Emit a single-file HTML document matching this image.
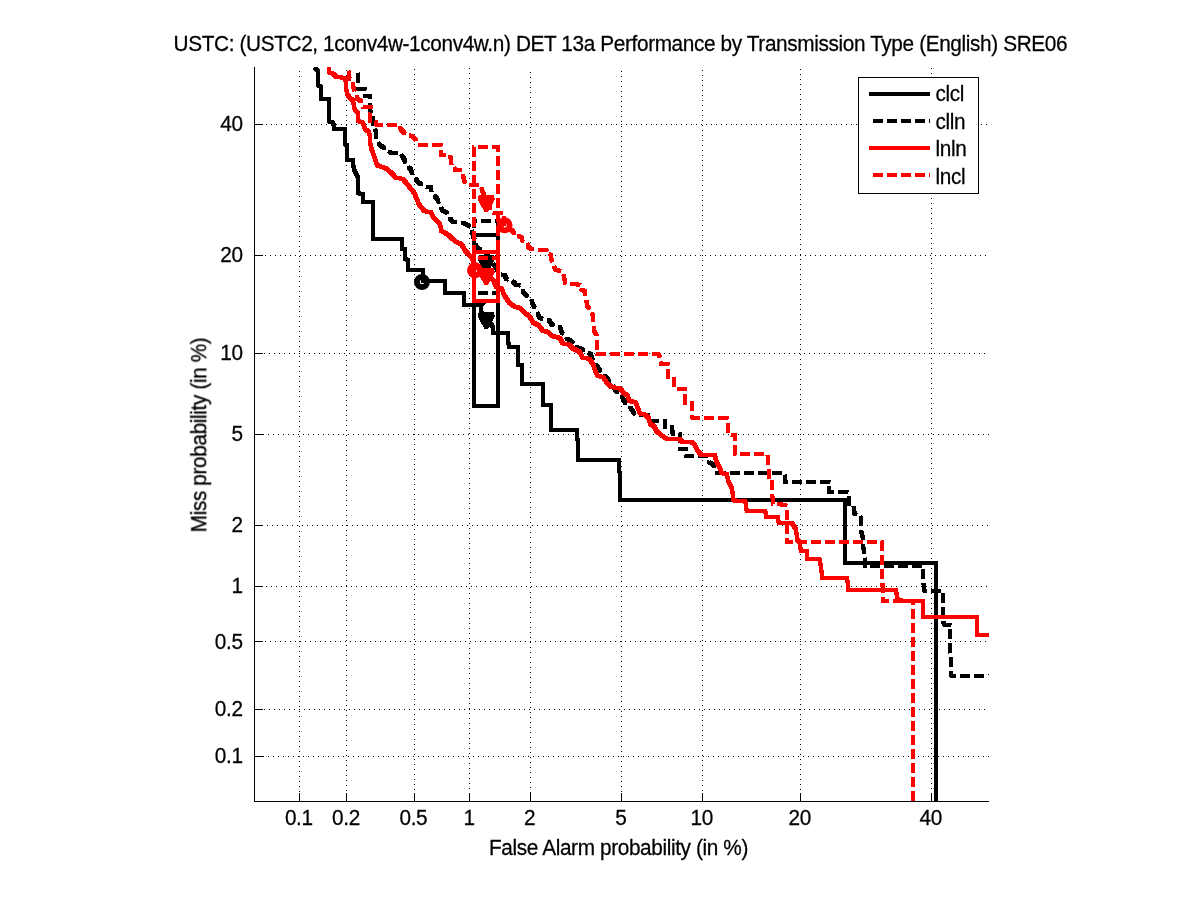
<!DOCTYPE html><html><head><meta charset="utf-8"><title>DET</title><style>
html,body{margin:0;padding:0;background:#fff}
body{width:1201px;height:900px;position:relative;overflow:hidden;font-family:"Liberation Sans",sans-serif;font-size:20.8px;letter-spacing:-0.38px;-webkit-text-stroke:0.25px #000;color:#000}
.t{position:absolute;white-space:nowrap;line-height:20px;transform:scaleY(1.03);transform-origin:0 17.2px}
</style></head><body>
<svg width="1201" height="900" viewBox="0 0 1201 900" shape-rendering="crispEdges" style="position:absolute;left:0;top:0">
<rect width="1201" height="900" fill="#fff"/>
<g stroke="#000" stroke-width="1" stroke-dasharray="1 4" fill="none"><path d="M299.5,71 V801"/><path d="M258,756.5 H989"/><path d="M346.5,70 V801"/><path d="M259,709.5 H989"/><path d="M414.5,69 V801"/><path d="M255,641.5 H989"/><path d="M469.5,68 V801"/><path d="M256,586.5 H989"/><path d="M530.5,72 V801"/><path d="M257,525.5 H989"/><path d="M621.5,71 V801"/><path d="M258,434.5 H989"/><path d="M702.5,70 V801"/><path d="M259,353.5 H989"/><path d="M800.5,69 V801"/><path d="M255,255.5 H989"/><path d="M931.5,68 V801"/><path d="M256,124.5 H989"/></g>
<g stroke="#000" stroke-width="1" fill="none">
<path d="M254.5,67 V802 M254,801.5 H989"/>
<path d="M299.5,801 V793 M255,756.5 H263"/>
<path d="M346.5,801 V793 M255,709.5 H263"/>
<path d="M414.5,801 V793 M255,641.5 H263"/>
<path d="M469.5,801 V793 M255,586.5 H263"/>
<path d="M530.5,801 V793 M255,525.5 H263"/>
<path d="M621.5,801 V793 M255,434.5 H263"/>
<path d="M702.5,801 V793 M255,353.5 H263"/>
<path d="M800.5,801 V793 M255,255.5 H263"/>
<path d="M931.5,801 V793 M255,124.5 H263"/>
</g>
<defs><clipPath id="cp"><rect x="254" y="67" width="735" height="735"/></clipPath></defs>
<g clip-path="url(#cp)" fill="none" stroke-width="4" stroke-linejoin="miter">
<path d="M315.1,67.3 L318.0,71.3 L318.0,85.3 L320.7,86.7 L320.7,99.3 L328.7,99.3 L328.7,121.3 L333.3,122.7 L334.0,129.3 L344.7,129.3 L344.7,144.0 L346.7,145.3 L346.7,160.0 L352.7,160.0 L352.7,161.3 L354.0,169.3 L358.0,177.3 L358.0,193.3 L362.7,194.0 L363.3,202.0 L373.3,202.0 L373.3,238.7 L402.0,239.0 L402.0,248.5 L405.0,249.5 L405.0,259.0 L408.0,260.0 L408.0,269.5 L422.5,269.5 L423.0,281.0 L445.0,281.0 L445.0,292.5 L464.0,292.5 L464.0,304.5 L481.0,304.5 L480.7,304.7 L481.3,312.0 L492.7,326.7 L492.7,332.7 L508.0,332.7 L508.7,347.3 L518.0,347.3 L518.0,364.7 L522.0,365.3 L522.0,384.0 L542.7,384.0 L542.7,404.7 L551.3,404.7 L551.3,404.7 L551.3,430.0 L577.3,430.0 L578.0,460.0 L619.3,460.0 L620.0,500.0 L844.7,500.0 L844.7,562.7 L936.0,562.7 L936.0,801.0" stroke="#000"/>
<path d="M314.1,66.3 L317.0,70.3 L317.0,84.3 L319.7,85.7 L319.7,98.3 L327.7,98.3 L327.7,120.3 L332.3,121.7 L333.0,128.3 L343.7,128.3 L343.7,143.0 L345.7,144.3 L345.7,159.0 L351.7,159.0 L351.7,160.3 L353.0,168.3 L357.0,176.3 L357.0,192.3 L361.7,193.0 L362.3,201.0 L372.3,201.0 L372.3,237.7 L401.0,238.0 L401.0,247.5 L404.0,248.5 L404.0,258.0 L407.0,259.0 L407.0,268.5 L421.5,268.5 L422.0,280.0 L444.0,280.0 L444.0,291.5 L463.0,291.5 L463.0,303.5 L480.0,303.5 L479.7,303.7 L480.3,311.0 L491.7,325.7 L491.7,331.7 L507.0,331.7 L507.7,346.3 L517.0,346.3 L517.0,363.7 L521.0,364.3 L521.0,383.0 L541.7,383.0 L541.7,403.7 L550.3,403.7 L550.3,403.7 L550.3,429.0 L576.3,429.0 L577.0,459.0 L618.3,459.0 L619.0,499.0 L843.7,499.0 L843.7,561.7 L935.0,561.7 L935.0,800.0" stroke="#000" stroke-width="2"/>
<path d="M316.1,66.3 L319.0,70.3 L319.0,84.3 L321.7,85.7 L321.7,98.3 L329.7,98.3 L329.7,120.3 L334.3,121.7 L335.0,128.3 L345.7,128.3 L345.7,143.0 L347.7,144.3 L347.7,159.0 L353.7,159.0 L353.7,160.3 L355.0,168.3 L359.0,176.3 L359.0,192.3 L363.7,193.0 L364.3,201.0 L374.3,201.0 L374.3,237.7 L403.0,238.0 L403.0,247.5 L406.0,248.5 L406.0,258.0 L409.0,259.0 L409.0,268.5 L423.5,268.5 L424.0,280.0 L446.0,280.0 L446.0,291.5 L465.0,291.5 L465.0,303.5 L482.0,303.5 L481.7,303.7 L482.3,311.0 L493.7,325.7 L493.7,331.7 L509.0,331.7 L509.7,346.3 L519.0,346.3 L519.0,363.7 L523.0,364.3 L523.0,383.0 L543.7,383.0 L543.7,403.7 L552.3,403.7 L552.3,403.7 L552.3,429.0 L578.3,429.0 L579.0,459.0 L620.3,459.0 L621.0,499.0 L845.7,499.0 L845.7,561.7 L937.0,561.7 L937.0,800.0" stroke="#000" stroke-width="2"/>
<path d="M314.1,68.3 L317.0,72.3 L317.0,86.3 L319.7,87.7 L319.7,100.3 L327.7,100.3 L327.7,122.3 L332.3,123.7 L333.0,130.3 L343.7,130.3 L343.7,145.0 L345.7,146.3 L345.7,161.0 L351.7,161.0 L351.7,162.3 L353.0,170.3 L357.0,178.3 L357.0,194.3 L361.7,195.0 L362.3,203.0 L372.3,203.0 L372.3,239.7 L401.0,240.0 L401.0,249.5 L404.0,250.5 L404.0,260.0 L407.0,261.0 L407.0,270.5 L421.5,270.5 L422.0,282.0 L444.0,282.0 L444.0,293.5 L463.0,293.5 L463.0,305.5 L480.0,305.5 L479.7,305.7 L480.3,313.0 L491.7,327.7 L491.7,333.7 L507.0,333.7 L507.7,348.3 L517.0,348.3 L517.0,365.7 L521.0,366.3 L521.0,385.0 L541.7,385.0 L541.7,405.7 L550.3,405.7 L550.3,405.7 L550.3,431.0 L576.3,431.0 L577.0,461.0 L618.3,461.0 L619.0,501.0 L843.7,501.0 L843.7,563.7 L935.0,563.7 L935.0,802.0" stroke="#000" stroke-width="2"/>
<path d="M316.1,68.3 L319.0,72.3 L319.0,86.3 L321.7,87.7 L321.7,100.3 L329.7,100.3 L329.7,122.3 L334.3,123.7 L335.0,130.3 L345.7,130.3 L345.7,145.0 L347.7,146.3 L347.7,161.0 L353.7,161.0 L353.7,162.3 L355.0,170.3 L359.0,178.3 L359.0,194.3 L363.7,195.0 L364.3,203.0 L374.3,203.0 L374.3,239.7 L403.0,240.0 L403.0,249.5 L406.0,250.5 L406.0,260.0 L409.0,261.0 L409.0,270.5 L423.5,270.5 L424.0,282.0 L446.0,282.0 L446.0,293.5 L465.0,293.5 L465.0,305.5 L482.0,305.5 L481.7,305.7 L482.3,313.0 L493.7,327.7 L493.7,333.7 L509.0,333.7 L509.7,348.3 L519.0,348.3 L519.0,365.7 L523.0,366.3 L523.0,385.0 L543.7,385.0 L543.7,405.7 L552.3,405.7 L552.3,405.7 L552.3,431.0 L578.3,431.0 L579.0,461.0 L620.3,461.0 L621.0,501.0 L845.7,501.0 L845.7,563.7 L937.0,563.7 L937.0,802.0" stroke="#000" stroke-width="2"/>
<path d="M313.6,65.8 L316.5,69.8 L316.5,83.8 L319.2,85.2 L319.2,97.8 L327.2,97.8 L327.2,119.8 L331.8,121.2 L332.5,127.8 L343.2,127.8 L343.2,142.5 L345.2,143.8 L345.2,158.5 L351.2,158.5 L351.2,159.8 L352.5,167.8 L356.5,175.8 L356.5,191.8 L361.2,192.5 L361.8,200.5 L371.8,200.5 L371.8,237.2 L400.5,237.5 L400.5,247.0 L403.5,248.0 L403.5,257.5 L406.5,258.5 L406.5,268.0 L421.0,268.0 L421.5,279.5 L443.5,279.5 L443.5,291.0 L462.5,291.0 L462.5,303.0 L479.5,303.0 L479.2,303.2 L479.8,310.5 L491.2,325.2 L491.2,331.2 L506.5,331.2 L507.2,345.8 L516.5,345.8 L516.5,363.2 L520.5,363.8 L520.5,382.5 L541.2,382.5 L541.2,403.2 L549.8,403.2 L549.8,403.2 L549.8,428.5 L575.8,428.5 L576.5,458.5 L617.8,458.5 L618.5,498.5 L843.2,498.5 L843.2,561.2 L934.5,561.2 L934.5,799.5" stroke="#000" stroke-width="1"/>
<path d="M316.6,65.8 L319.5,69.8 L319.5,83.8 L322.2,85.2 L322.2,97.8 L330.2,97.8 L330.2,119.8 L334.8,121.2 L335.5,127.8 L346.2,127.8 L346.2,142.5 L348.2,143.8 L348.2,158.5 L354.2,158.5 L354.2,159.8 L355.5,167.8 L359.5,175.8 L359.5,191.8 L364.2,192.5 L364.8,200.5 L374.8,200.5 L374.8,237.2 L403.5,237.5 L403.5,247.0 L406.5,248.0 L406.5,257.5 L409.5,258.5 L409.5,268.0 L424.0,268.0 L424.5,279.5 L446.5,279.5 L446.5,291.0 L465.5,291.0 L465.5,303.0 L482.5,303.0 L482.2,303.2 L482.8,310.5 L494.2,325.2 L494.2,331.2 L509.5,331.2 L510.2,345.8 L519.5,345.8 L519.5,363.2 L523.5,363.8 L523.5,382.5 L544.2,382.5 L544.2,403.2 L552.8,403.2 L552.8,403.2 L552.8,428.5 L578.8,428.5 L579.5,458.5 L620.8,458.5 L621.5,498.5 L846.2,498.5 L846.2,561.2 L937.5,561.2 L937.5,799.5" stroke="#000" stroke-width="1"/>
<path d="M313.6,68.8 L316.5,72.8 L316.5,86.8 L319.2,88.2 L319.2,100.8 L327.2,100.8 L327.2,122.8 L331.8,124.2 L332.5,130.8 L343.2,130.8 L343.2,145.5 L345.2,146.8 L345.2,161.5 L351.2,161.5 L351.2,162.8 L352.5,170.8 L356.5,178.8 L356.5,194.8 L361.2,195.5 L361.8,203.5 L371.8,203.5 L371.8,240.2 L400.5,240.5 L400.5,250.0 L403.5,251.0 L403.5,260.5 L406.5,261.5 L406.5,271.0 L421.0,271.0 L421.5,282.5 L443.5,282.5 L443.5,294.0 L462.5,294.0 L462.5,306.0 L479.5,306.0 L479.2,306.2 L479.8,313.5 L491.2,328.2 L491.2,334.2 L506.5,334.2 L507.2,348.8 L516.5,348.8 L516.5,366.2 L520.5,366.8 L520.5,385.5 L541.2,385.5 L541.2,406.2 L549.8,406.2 L549.8,406.2 L549.8,431.5 L575.8,431.5 L576.5,461.5 L617.8,461.5 L618.5,501.5 L843.2,501.5 L843.2,564.2 L934.5,564.2 L934.5,802.5" stroke="#000" stroke-width="1"/>
<path d="M316.6,68.8 L319.5,72.8 L319.5,86.8 L322.2,88.2 L322.2,100.8 L330.2,100.8 L330.2,122.8 L334.8,124.2 L335.5,130.8 L346.2,130.8 L346.2,145.5 L348.2,146.8 L348.2,161.5 L354.2,161.5 L354.2,162.8 L355.5,170.8 L359.5,178.8 L359.5,194.8 L364.2,195.5 L364.8,203.5 L374.8,203.5 L374.8,240.2 L403.5,240.5 L403.5,250.0 L406.5,251.0 L406.5,260.5 L409.5,261.5 L409.5,271.0 L424.0,271.0 L424.5,282.5 L446.5,282.5 L446.5,294.0 L465.5,294.0 L465.5,306.0 L482.5,306.0 L482.2,306.2 L482.8,313.5 L494.2,328.2 L494.2,334.2 L509.5,334.2 L510.2,348.8 L519.5,348.8 L519.5,366.2 L523.5,366.8 L523.5,385.5 L544.2,385.5 L544.2,406.2 L552.8,406.2 L552.8,406.2 L552.8,431.5 L578.8,431.5 L579.5,461.5 L620.8,461.5 L621.5,501.5 L846.2,501.5 L846.2,564.2 L937.5,564.2 L937.5,802.5" stroke="#000" stroke-width="1"/>
<path d="M474,405.6 H497.7 V235 H474 Z" stroke="#000"/>
<polygon points="479.0,312.1 493.6,312.1 495.1,316.4 488.3,328.7 484.3,328.7 477.5,316.4" fill="#000" stroke="none"/>
<circle cx="422" cy="282" r="5.1" stroke="#000" stroke-width="5.8" shape-rendering="geometricPrecision"/>
<path d="M356.0,69.3 L358.0,73.3 L358.0,88.7 L364.7,88.7 L365.3,96.0 L370.0,96.0 L370.0,105.3 L370.7,113.3 L372.7,114.7 L372.7,128.0 L375.3,129.3 L376.7,140.0 L380.0,145.3 L386.7,149.3 L390.7,152.7 L400.0,152.7 L404.0,158.7 L406.7,165.3 L410.7,169.3 L413.3,176.0 L416.0,179.3 L417.3,181.3 L424.0,186.7 L430.7,187.3 L432.0,193.3 L437.3,198.7 L439.3,204.0 L442.7,210.7 L446.7,212.7 L450.0,218.7 L453.3,222.0 L460.7,222.0 L465.3,224.0 L469.3,226.0 L472.0,230.7 L473.3,237.3 L476.0,241.3 L476.7,248.0 L481.3,249.3 L484.0,250.0 L500.0,274.0 L504.7,275.3 L506.7,279.3 L512.7,281.3 L516.0,284.7 L521.3,286.0 L523.3,292.0 L526.7,296.0 L530.7,298.7 L533.3,305.3 L536.0,309.3 L539.3,317.3 L543.3,319.3 L548.7,320.0 L552.0,324.7 L556.0,326.7 L560.0,327.3 L562.0,332.7 L565.3,335.3 L566.7,338.7 L570.7,340.7 L573.3,342.7 L575.3,346.7 L581.3,348.7 L585.3,352.0 L590.7,354.0 L592.0,358.0 L595.3,363.3 L598.7,368.7 L601.3,372.7 L606.0,376.7 L609.3,381.3 L612.7,384.7 L616.0,391.3 L621.3,394.0 L623.3,399.3 L625.3,403.3 L629.3,406.0 L632.0,410.0 L634.7,414.0 L640.0,415.3 L648.0,414.7 L650.0,420.7 L664.7,420.9 L664.7,427.3 L672.0,427.3 L672.7,433.7 L679.6,434.0 L679.6,448.7 L686.0,448.7 L686.0,456.3 L708.0,456.3 L708.7,462.0 L713.3,464.7 L715.3,468.7 L717.3,472.7 L782.7,472.7 L784.7,475.3 L784.7,482.0 L784.7,482.0 L829.3,482.0 L829.3,492.0 L847.3,492.0 L848.7,496.0 L848.7,504.0 L853.3,504.7 L854.0,512.7 L858.7,516.0 L861.3,517.3 L861.3,532.0 L862.7,537.3 L862.7,546.7 L864.0,549.3 L864.7,558.7 L864.7,566.0 L923.3,566.0 L923.3,583.0 L924.5,590.5 L942.7,591.0 L942.7,620.0 L944.0,624.5 L950.0,624.7 L950.0,653.0 L950.7,655.0 L950.7,675.5 L988.5,676.0" stroke="#000" stroke-dasharray="10 4" stroke-dashoffset="10"/>
<path d="M355.0,68.3 L357.0,72.3 L357.0,87.7 L363.7,87.7 L364.3,95.0 L369.0,95.0 L369.0,104.3 L369.7,112.3 L371.7,113.7 L371.7,127.0 L374.3,128.3 L375.7,139.0 L379.0,144.3 L385.7,148.3 L389.7,151.7 L399.0,151.7 L403.0,157.7 L405.7,164.3 L409.7,168.3 L412.3,175.0 L415.0,178.3 L416.3,180.3 L423.0,185.7 L429.7,186.3 L431.0,192.3 L436.3,197.7 L438.3,203.0 L441.7,209.7 L445.7,211.7 L449.0,217.7 L452.3,221.0 L459.7,221.0 L464.3,223.0 L468.3,225.0 L471.0,229.7 L472.3,236.3 L475.0,240.3 L475.7,247.0 L480.3,248.3 L483.0,249.0 L499.0,273.0 L503.7,274.3 L505.7,278.3 L511.7,280.3 L515.0,283.7 L520.3,285.0 L522.3,291.0 L525.7,295.0 L529.7,297.7 L532.3,304.3 L535.0,308.3 L538.3,316.3 L542.3,318.3 L547.7,319.0 L551.0,323.7 L555.0,325.7 L559.0,326.3 L561.0,331.7 L564.3,334.3 L565.7,337.7 L569.7,339.7 L572.3,341.7 L574.3,345.7 L580.3,347.7 L584.3,351.0 L589.7,353.0 L591.0,357.0 L594.3,362.3 L597.7,367.7 L600.3,371.7 L605.0,375.7 L608.3,380.3 L611.7,383.7 L615.0,390.3 L620.3,393.0 L622.3,398.3 L624.3,402.3 L628.3,405.0 L631.0,409.0 L633.7,413.0 L639.0,414.3 L647.0,413.7 L649.0,419.7 L663.7,419.9 L663.7,426.3 L671.0,426.3 L671.7,432.7 L678.6,433.0 L678.6,447.7 L685.0,447.7 L685.0,455.3 L707.0,455.3 L707.7,461.0 L712.3,463.7 L714.3,467.7 L716.3,471.7 L781.7,471.7 L783.7,474.3 L783.7,481.0 L783.7,481.0 L828.3,481.0 L828.3,491.0 L846.3,491.0 L847.7,495.0 L847.7,503.0 L852.3,503.7 L853.0,511.7 L857.7,515.0 L860.3,516.3 L860.3,531.0 L861.7,536.3 L861.7,545.7 L863.0,548.3 L863.7,557.7 L863.7,565.0 L922.3,565.0 L922.3,582.0 L923.5,589.5 L941.7,590.0 L941.7,619.0 L943.0,623.5 L949.0,623.7 L949.0,652.0 L949.7,654.0 L949.7,674.5 L987.5,675.0" stroke="#000" stroke-width="2" stroke-dasharray="8 6" stroke-dashoffset="9"/>
<path d="M357.0,68.3 L359.0,72.3 L359.0,87.7 L365.7,87.7 L366.3,95.0 L371.0,95.0 L371.0,104.3 L371.7,112.3 L373.7,113.7 L373.7,127.0 L376.3,128.3 L377.7,139.0 L381.0,144.3 L387.7,148.3 L391.7,151.7 L401.0,151.7 L405.0,157.7 L407.7,164.3 L411.7,168.3 L414.3,175.0 L417.0,178.3 L418.3,180.3 L425.0,185.7 L431.7,186.3 L433.0,192.3 L438.3,197.7 L440.3,203.0 L443.7,209.7 L447.7,211.7 L451.0,217.7 L454.3,221.0 L461.7,221.0 L466.3,223.0 L470.3,225.0 L473.0,229.7 L474.3,236.3 L477.0,240.3 L477.7,247.0 L482.3,248.3 L485.0,249.0 L501.0,273.0 L505.7,274.3 L507.7,278.3 L513.7,280.3 L517.0,283.7 L522.3,285.0 L524.3,291.0 L527.7,295.0 L531.7,297.7 L534.3,304.3 L537.0,308.3 L540.3,316.3 L544.3,318.3 L549.7,319.0 L553.0,323.7 L557.0,325.7 L561.0,326.3 L563.0,331.7 L566.3,334.3 L567.7,337.7 L571.7,339.7 L574.3,341.7 L576.3,345.7 L582.3,347.7 L586.3,351.0 L591.7,353.0 L593.0,357.0 L596.3,362.3 L599.7,367.7 L602.3,371.7 L607.0,375.7 L610.3,380.3 L613.7,383.7 L617.0,390.3 L622.3,393.0 L624.3,398.3 L626.3,402.3 L630.3,405.0 L633.0,409.0 L635.7,413.0 L641.0,414.3 L649.0,413.7 L651.0,419.7 L665.7,419.9 L665.7,426.3 L673.0,426.3 L673.7,432.7 L680.6,433.0 L680.6,447.7 L687.0,447.7 L687.0,455.3 L709.0,455.3 L709.7,461.0 L714.3,463.7 L716.3,467.7 L718.3,471.7 L783.7,471.7 L785.7,474.3 L785.7,481.0 L785.7,481.0 L830.3,481.0 L830.3,491.0 L848.3,491.0 L849.7,495.0 L849.7,503.0 L854.3,503.7 L855.0,511.7 L859.7,515.0 L862.3,516.3 L862.3,531.0 L863.7,536.3 L863.7,545.7 L865.0,548.3 L865.7,557.7 L865.7,565.0 L924.3,565.0 L924.3,582.0 L925.5,589.5 L943.7,590.0 L943.7,619.0 L945.0,623.5 L951.0,623.7 L951.0,652.0 L951.7,654.0 L951.7,674.5 L989.5,675.0" stroke="#000" stroke-width="2" stroke-dasharray="8 6" stroke-dashoffset="9"/>
<path d="M355.0,70.3 L357.0,74.3 L357.0,89.7 L363.7,89.7 L364.3,97.0 L369.0,97.0 L369.0,106.3 L369.7,114.3 L371.7,115.7 L371.7,129.0 L374.3,130.3 L375.7,141.0 L379.0,146.3 L385.7,150.3 L389.7,153.7 L399.0,153.7 L403.0,159.7 L405.7,166.3 L409.7,170.3 L412.3,177.0 L415.0,180.3 L416.3,182.3 L423.0,187.7 L429.7,188.3 L431.0,194.3 L436.3,199.7 L438.3,205.0 L441.7,211.7 L445.7,213.7 L449.0,219.7 L452.3,223.0 L459.7,223.0 L464.3,225.0 L468.3,227.0 L471.0,231.7 L472.3,238.3 L475.0,242.3 L475.7,249.0 L480.3,250.3 L483.0,251.0 L499.0,275.0 L503.7,276.3 L505.7,280.3 L511.7,282.3 L515.0,285.7 L520.3,287.0 L522.3,293.0 L525.7,297.0 L529.7,299.7 L532.3,306.3 L535.0,310.3 L538.3,318.3 L542.3,320.3 L547.7,321.0 L551.0,325.7 L555.0,327.7 L559.0,328.3 L561.0,333.7 L564.3,336.3 L565.7,339.7 L569.7,341.7 L572.3,343.7 L574.3,347.7 L580.3,349.7 L584.3,353.0 L589.7,355.0 L591.0,359.0 L594.3,364.3 L597.7,369.7 L600.3,373.7 L605.0,377.7 L608.3,382.3 L611.7,385.7 L615.0,392.3 L620.3,395.0 L622.3,400.3 L624.3,404.3 L628.3,407.0 L631.0,411.0 L633.7,415.0 L639.0,416.3 L647.0,415.7 L649.0,421.7 L663.7,421.9 L663.7,428.3 L671.0,428.3 L671.7,434.7 L678.6,435.0 L678.6,449.7 L685.0,449.7 L685.0,457.3 L707.0,457.3 L707.7,463.0 L712.3,465.7 L714.3,469.7 L716.3,473.7 L781.7,473.7 L783.7,476.3 L783.7,483.0 L783.7,483.0 L828.3,483.0 L828.3,493.0 L846.3,493.0 L847.7,497.0 L847.7,505.0 L852.3,505.7 L853.0,513.7 L857.7,517.0 L860.3,518.3 L860.3,533.0 L861.7,538.3 L861.7,547.7 L863.0,550.3 L863.7,559.7 L863.7,567.0 L922.3,567.0 L922.3,584.0 L923.5,591.5 L941.7,592.0 L941.7,621.0 L943.0,625.5 L949.0,625.7 L949.0,654.0 L949.7,656.0 L949.7,676.5 L987.5,677.0" stroke="#000" stroke-width="2" stroke-dasharray="8 6" stroke-dashoffset="9"/>
<path d="M357.0,70.3 L359.0,74.3 L359.0,89.7 L365.7,89.7 L366.3,97.0 L371.0,97.0 L371.0,106.3 L371.7,114.3 L373.7,115.7 L373.7,129.0 L376.3,130.3 L377.7,141.0 L381.0,146.3 L387.7,150.3 L391.7,153.7 L401.0,153.7 L405.0,159.7 L407.7,166.3 L411.7,170.3 L414.3,177.0 L417.0,180.3 L418.3,182.3 L425.0,187.7 L431.7,188.3 L433.0,194.3 L438.3,199.7 L440.3,205.0 L443.7,211.7 L447.7,213.7 L451.0,219.7 L454.3,223.0 L461.7,223.0 L466.3,225.0 L470.3,227.0 L473.0,231.7 L474.3,238.3 L477.0,242.3 L477.7,249.0 L482.3,250.3 L485.0,251.0 L501.0,275.0 L505.7,276.3 L507.7,280.3 L513.7,282.3 L517.0,285.7 L522.3,287.0 L524.3,293.0 L527.7,297.0 L531.7,299.7 L534.3,306.3 L537.0,310.3 L540.3,318.3 L544.3,320.3 L549.7,321.0 L553.0,325.7 L557.0,327.7 L561.0,328.3 L563.0,333.7 L566.3,336.3 L567.7,339.7 L571.7,341.7 L574.3,343.7 L576.3,347.7 L582.3,349.7 L586.3,353.0 L591.7,355.0 L593.0,359.0 L596.3,364.3 L599.7,369.7 L602.3,373.7 L607.0,377.7 L610.3,382.3 L613.7,385.7 L617.0,392.3 L622.3,395.0 L624.3,400.3 L626.3,404.3 L630.3,407.0 L633.0,411.0 L635.7,415.0 L641.0,416.3 L649.0,415.7 L651.0,421.7 L665.7,421.9 L665.7,428.3 L673.0,428.3 L673.7,434.7 L680.6,435.0 L680.6,449.7 L687.0,449.7 L687.0,457.3 L709.0,457.3 L709.7,463.0 L714.3,465.7 L716.3,469.7 L718.3,473.7 L783.7,473.7 L785.7,476.3 L785.7,483.0 L785.7,483.0 L830.3,483.0 L830.3,493.0 L848.3,493.0 L849.7,497.0 L849.7,505.0 L854.3,505.7 L855.0,513.7 L859.7,517.0 L862.3,518.3 L862.3,533.0 L863.7,538.3 L863.7,547.7 L865.0,550.3 L865.7,559.7 L865.7,567.0 L924.3,567.0 L924.3,584.0 L925.5,591.5 L943.7,592.0 L943.7,621.0 L945.0,625.5 L951.0,625.7 L951.0,654.0 L951.7,656.0 L951.7,676.5 L989.5,677.0" stroke="#000" stroke-width="2" stroke-dasharray="8 6" stroke-dashoffset="9"/>
<path d="M354.5,67.8 L356.5,71.8 L356.5,87.2 L363.2,87.2 L363.8,94.5 L368.5,94.5 L368.5,103.8 L369.2,111.8 L371.2,113.2 L371.2,126.5 L373.8,127.8 L375.2,138.5 L378.5,143.8 L385.2,147.8 L389.2,151.2 L398.5,151.2 L402.5,157.2 L405.2,163.8 L409.2,167.8 L411.8,174.5 L414.5,177.8 L415.8,179.8 L422.5,185.2 L429.2,185.8 L430.5,191.8 L435.8,197.2 L437.8,202.5 L441.2,209.2 L445.2,211.2 L448.5,217.2 L451.8,220.5 L459.2,220.5 L463.8,222.5 L467.8,224.5 L470.5,229.2 L471.8,235.8 L474.5,239.8 L475.2,246.5 L479.8,247.8 L482.5,248.5 L498.5,272.5 L503.2,273.8 L505.2,277.8 L511.2,279.8 L514.5,283.2 L519.8,284.5 L521.8,290.5 L525.2,294.5 L529.2,297.2 L531.8,303.8 L534.5,307.8 L537.8,315.8 L541.8,317.8 L547.2,318.5 L550.5,323.2 L554.5,325.2 L558.5,325.8 L560.5,331.2 L563.8,333.8 L565.2,337.2 L569.2,339.2 L571.8,341.2 L573.8,345.2 L579.8,347.2 L583.8,350.5 L589.2,352.5 L590.5,356.5 L593.8,361.8 L597.2,367.2 L599.8,371.2 L604.5,375.2 L607.8,379.8 L611.2,383.2 L614.5,389.8 L619.8,392.5 L621.8,397.8 L623.8,401.8 L627.8,404.5 L630.5,408.5 L633.2,412.5 L638.5,413.8 L646.5,413.2 L648.5,419.2 L663.2,419.4 L663.2,425.8 L670.5,425.8 L671.2,432.2 L678.1,432.5 L678.1,447.2 L684.5,447.2 L684.5,454.8 L706.5,454.8 L707.2,460.5 L711.8,463.2 L713.8,467.2 L715.8,471.2 L781.2,471.2 L783.2,473.8 L783.2,480.5 L783.2,480.5 L827.8,480.5 L827.8,490.5 L845.8,490.5 L847.2,494.5 L847.2,502.5 L851.8,503.2 L852.5,511.2 L857.2,514.5 L859.8,515.8 L859.8,530.5 L861.2,535.8 L861.2,545.2 L862.5,547.8 L863.2,557.2 L863.2,564.5 L921.8,564.5 L921.8,581.5 L923.0,589.0 L941.2,589.5 L941.2,618.5 L942.5,623.0 L948.5,623.2 L948.5,651.5 L949.2,653.5 L949.2,674.0 L987.0,674.5" stroke="#000" stroke-width="1" stroke-dasharray="7 7" stroke-dashoffset="8.5"/>
<path d="M357.5,67.8 L359.5,71.8 L359.5,87.2 L366.2,87.2 L366.8,94.5 L371.5,94.5 L371.5,103.8 L372.2,111.8 L374.2,113.2 L374.2,126.5 L376.8,127.8 L378.2,138.5 L381.5,143.8 L388.2,147.8 L392.2,151.2 L401.5,151.2 L405.5,157.2 L408.2,163.8 L412.2,167.8 L414.8,174.5 L417.5,177.8 L418.8,179.8 L425.5,185.2 L432.2,185.8 L433.5,191.8 L438.8,197.2 L440.8,202.5 L444.2,209.2 L448.2,211.2 L451.5,217.2 L454.8,220.5 L462.2,220.5 L466.8,222.5 L470.8,224.5 L473.5,229.2 L474.8,235.8 L477.5,239.8 L478.2,246.5 L482.8,247.8 L485.5,248.5 L501.5,272.5 L506.2,273.8 L508.2,277.8 L514.2,279.8 L517.5,283.2 L522.8,284.5 L524.8,290.5 L528.2,294.5 L532.2,297.2 L534.8,303.8 L537.5,307.8 L540.8,315.8 L544.8,317.8 L550.2,318.5 L553.5,323.2 L557.5,325.2 L561.5,325.8 L563.5,331.2 L566.8,333.8 L568.2,337.2 L572.2,339.2 L574.8,341.2 L576.8,345.2 L582.8,347.2 L586.8,350.5 L592.2,352.5 L593.5,356.5 L596.8,361.8 L600.2,367.2 L602.8,371.2 L607.5,375.2 L610.8,379.8 L614.2,383.2 L617.5,389.8 L622.8,392.5 L624.8,397.8 L626.8,401.8 L630.8,404.5 L633.5,408.5 L636.2,412.5 L641.5,413.8 L649.5,413.2 L651.5,419.2 L666.2,419.4 L666.2,425.8 L673.5,425.8 L674.2,432.2 L681.1,432.5 L681.1,447.2 L687.5,447.2 L687.5,454.8 L709.5,454.8 L710.2,460.5 L714.8,463.2 L716.8,467.2 L718.8,471.2 L784.2,471.2 L786.2,473.8 L786.2,480.5 L786.2,480.5 L830.8,480.5 L830.8,490.5 L848.8,490.5 L850.2,494.5 L850.2,502.5 L854.8,503.2 L855.5,511.2 L860.2,514.5 L862.8,515.8 L862.8,530.5 L864.2,535.8 L864.2,545.2 L865.5,547.8 L866.2,557.2 L866.2,564.5 L924.8,564.5 L924.8,581.5 L926.0,589.0 L944.2,589.5 L944.2,618.5 L945.5,623.0 L951.5,623.2 L951.5,651.5 L952.2,653.5 L952.2,674.0 L990.0,674.5" stroke="#000" stroke-width="1" stroke-dasharray="7 7" stroke-dashoffset="8.5"/>
<path d="M354.5,70.8 L356.5,74.8 L356.5,90.2 L363.2,90.2 L363.8,97.5 L368.5,97.5 L368.5,106.8 L369.2,114.8 L371.2,116.2 L371.2,129.5 L373.8,130.8 L375.2,141.5 L378.5,146.8 L385.2,150.8 L389.2,154.2 L398.5,154.2 L402.5,160.2 L405.2,166.8 L409.2,170.8 L411.8,177.5 L414.5,180.8 L415.8,182.8 L422.5,188.2 L429.2,188.8 L430.5,194.8 L435.8,200.2 L437.8,205.5 L441.2,212.2 L445.2,214.2 L448.5,220.2 L451.8,223.5 L459.2,223.5 L463.8,225.5 L467.8,227.5 L470.5,232.2 L471.8,238.8 L474.5,242.8 L475.2,249.5 L479.8,250.8 L482.5,251.5 L498.5,275.5 L503.2,276.8 L505.2,280.8 L511.2,282.8 L514.5,286.2 L519.8,287.5 L521.8,293.5 L525.2,297.5 L529.2,300.2 L531.8,306.8 L534.5,310.8 L537.8,318.8 L541.8,320.8 L547.2,321.5 L550.5,326.2 L554.5,328.2 L558.5,328.8 L560.5,334.2 L563.8,336.8 L565.2,340.2 L569.2,342.2 L571.8,344.2 L573.8,348.2 L579.8,350.2 L583.8,353.5 L589.2,355.5 L590.5,359.5 L593.8,364.8 L597.2,370.2 L599.8,374.2 L604.5,378.2 L607.8,382.8 L611.2,386.2 L614.5,392.8 L619.8,395.5 L621.8,400.8 L623.8,404.8 L627.8,407.5 L630.5,411.5 L633.2,415.5 L638.5,416.8 L646.5,416.2 L648.5,422.2 L663.2,422.4 L663.2,428.8 L670.5,428.8 L671.2,435.2 L678.1,435.5 L678.1,450.2 L684.5,450.2 L684.5,457.8 L706.5,457.8 L707.2,463.5 L711.8,466.2 L713.8,470.2 L715.8,474.2 L781.2,474.2 L783.2,476.8 L783.2,483.5 L783.2,483.5 L827.8,483.5 L827.8,493.5 L845.8,493.5 L847.2,497.5 L847.2,505.5 L851.8,506.2 L852.5,514.2 L857.2,517.5 L859.8,518.8 L859.8,533.5 L861.2,538.8 L861.2,548.2 L862.5,550.8 L863.2,560.2 L863.2,567.5 L921.8,567.5 L921.8,584.5 L923.0,592.0 L941.2,592.5 L941.2,621.5 L942.5,626.0 L948.5,626.2 L948.5,654.5 L949.2,656.5 L949.2,677.0 L987.0,677.5" stroke="#000" stroke-width="1" stroke-dasharray="7 7" stroke-dashoffset="8.5"/>
<path d="M357.5,70.8 L359.5,74.8 L359.5,90.2 L366.2,90.2 L366.8,97.5 L371.5,97.5 L371.5,106.8 L372.2,114.8 L374.2,116.2 L374.2,129.5 L376.8,130.8 L378.2,141.5 L381.5,146.8 L388.2,150.8 L392.2,154.2 L401.5,154.2 L405.5,160.2 L408.2,166.8 L412.2,170.8 L414.8,177.5 L417.5,180.8 L418.8,182.8 L425.5,188.2 L432.2,188.8 L433.5,194.8 L438.8,200.2 L440.8,205.5 L444.2,212.2 L448.2,214.2 L451.5,220.2 L454.8,223.5 L462.2,223.5 L466.8,225.5 L470.8,227.5 L473.5,232.2 L474.8,238.8 L477.5,242.8 L478.2,249.5 L482.8,250.8 L485.5,251.5 L501.5,275.5 L506.2,276.8 L508.2,280.8 L514.2,282.8 L517.5,286.2 L522.8,287.5 L524.8,293.5 L528.2,297.5 L532.2,300.2 L534.8,306.8 L537.5,310.8 L540.8,318.8 L544.8,320.8 L550.2,321.5 L553.5,326.2 L557.5,328.2 L561.5,328.8 L563.5,334.2 L566.8,336.8 L568.2,340.2 L572.2,342.2 L574.8,344.2 L576.8,348.2 L582.8,350.2 L586.8,353.5 L592.2,355.5 L593.5,359.5 L596.8,364.8 L600.2,370.2 L602.8,374.2 L607.5,378.2 L610.8,382.8 L614.2,386.2 L617.5,392.8 L622.8,395.5 L624.8,400.8 L626.8,404.8 L630.8,407.5 L633.5,411.5 L636.2,415.5 L641.5,416.8 L649.5,416.2 L651.5,422.2 L666.2,422.4 L666.2,428.8 L673.5,428.8 L674.2,435.2 L681.1,435.5 L681.1,450.2 L687.5,450.2 L687.5,457.8 L709.5,457.8 L710.2,463.5 L714.8,466.2 L716.8,470.2 L718.8,474.2 L784.2,474.2 L786.2,476.8 L786.2,483.5 L786.2,483.5 L830.8,483.5 L830.8,493.5 L848.8,493.5 L850.2,497.5 L850.2,505.5 L854.8,506.2 L855.5,514.2 L860.2,517.5 L862.8,518.8 L862.8,533.5 L864.2,538.8 L864.2,548.2 L865.5,550.8 L866.2,560.2 L866.2,567.5 L924.8,567.5 L924.8,584.5 L926.0,592.0 L944.2,592.5 L944.2,621.5 L945.5,626.0 L951.5,626.2 L951.5,654.5 L952.2,656.5 L952.2,677.0 L990.0,677.5" stroke="#000" stroke-width="1" stroke-dasharray="7 7" stroke-dashoffset="8.5"/>
<path d="M474,293 H497.7 V221 H474 Z" stroke="#000" stroke-dasharray="10 4" stroke-dashoffset="10"/>
<polygon points="479.0,255.0 493.6,255.0 495.1,259.3 488.3,271.6 484.3,271.6 477.5,259.3" fill="#000" stroke="none"/>
<path d="M328.7,67.3 L328.7,72.0 L333.3,74.0 L336.0,76.7 L344.7,78.0 L346.0,81.3 L346.7,93.3 L349.3,97.3 L352.7,100.0 L354.7,109.3 L358.0,113.3 L358.0,120.7 L362.7,122.7 L365.3,129.3 L369.3,132.0 L370.7,146.7 L374.0,156.0 L377.3,165.3 L385.3,168.0 L392.0,173.3 L396.0,178.0 L402.7,178.7 L409.3,186.7 L414.0,192.7 L416.7,198.7 L418.7,204.0 L424.7,211.3 L430.7,212.0 L433.3,217.3 L440.0,224.0 L441.3,230.7 L448.0,234.7 L456.0,242.0 L461.3,244.0 L465.3,250.7 L471.3,257.3 L473.3,261.3 L473.3,264.0 L493.3,280.0 L496.0,286.7 L502.0,288.7 L504.0,294.7 L509.3,302.7 L514.7,306.7 L520.0,308.0 L525.3,313.3 L529.3,316.0 L533.3,322.7 L538.7,325.3 L542.7,330.7 L548.0,332.0 L552.0,336.0 L560.0,338.0 L562.7,343.3 L569.3,344.7 L573.3,348.7 L580.0,352.0 L582.7,358.0 L589.3,358.7 L593.3,364.7 L595.3,371.3 L598.0,376.0 L603.3,377.3 L606.7,382.7 L611.3,386.7 L616.0,388.0 L620.7,388.7 L623.3,392.7 L627.3,395.3 L629.3,400.7 L636.0,402.7 L638.0,408.7 L640.0,413.3 L645.3,414.7 L648.7,418.0 L650.0,424.0 L654.0,426.0 L656.7,431.3 L661.3,435.3 L666.7,438.7 L680.0,439.3 L682.7,442.0 L691.3,442.0 L694.7,444.7 L697.3,450.0 L698.7,452.0 L702.0,455.3 L714.7,455.3 L716.7,462.0 L720.0,468.7 L722.0,473.3 L726.7,474.0 L728.7,482.0 L732.0,488.7 L733.3,499.3 L735.3,500.7 L745.3,500.7 L746.0,507.3 L746.7,510.5 L765.1,510.5 L765.3,510.7 L766.0,516.7 L778.0,517.3 L778.7,522.7 L792.0,523.3 L796.0,529.3 L797.3,540.0 L800.0,542.7 L800.7,550.7 L806.7,551.3 L807.3,558.7 L819.3,558.7 L821.3,568.7 L822.0,578.0 L847.3,578.0 L848.0,590.0 L896.0,590.0 L897.3,599.3 L903.3,601.3 L922.7,601.3 L923.3,617.3 L976.7,617.0 L976.7,635.0 L988.5,635.0" stroke="#f00"/>
<path d="M327.7,66.3 L327.7,71.0 L332.3,73.0 L335.0,75.7 L343.7,77.0 L345.0,80.3 L345.7,92.3 L348.3,96.3 L351.7,99.0 L353.7,108.3 L357.0,112.3 L357.0,119.7 L361.7,121.7 L364.3,128.3 L368.3,131.0 L369.7,145.7 L373.0,155.0 L376.3,164.3 L384.3,167.0 L391.0,172.3 L395.0,177.0 L401.7,177.7 L408.3,185.7 L413.0,191.7 L415.7,197.7 L417.7,203.0 L423.7,210.3 L429.7,211.0 L432.3,216.3 L439.0,223.0 L440.3,229.7 L447.0,233.7 L455.0,241.0 L460.3,243.0 L464.3,249.7 L470.3,256.3 L472.3,260.3 L472.3,263.0 L492.3,279.0 L495.0,285.7 L501.0,287.7 L503.0,293.7 L508.3,301.7 L513.7,305.7 L519.0,307.0 L524.3,312.3 L528.3,315.0 L532.3,321.7 L537.7,324.3 L541.7,329.7 L547.0,331.0 L551.0,335.0 L559.0,337.0 L561.7,342.3 L568.3,343.7 L572.3,347.7 L579.0,351.0 L581.7,357.0 L588.3,357.7 L592.3,363.7 L594.3,370.3 L597.0,375.0 L602.3,376.3 L605.7,381.7 L610.3,385.7 L615.0,387.0 L619.7,387.7 L622.3,391.7 L626.3,394.3 L628.3,399.7 L635.0,401.7 L637.0,407.7 L639.0,412.3 L644.3,413.7 L647.7,417.0 L649.0,423.0 L653.0,425.0 L655.7,430.3 L660.3,434.3 L665.7,437.7 L679.0,438.3 L681.7,441.0 L690.3,441.0 L693.7,443.7 L696.3,449.0 L697.7,451.0 L701.0,454.3 L713.7,454.3 L715.7,461.0 L719.0,467.7 L721.0,472.3 L725.7,473.0 L727.7,481.0 L731.0,487.7 L732.3,498.3 L734.3,499.7 L744.3,499.7 L745.0,506.3 L745.7,509.5 L764.1,509.5 L764.3,509.7 L765.0,515.7 L777.0,516.3 L777.7,521.7 L791.0,522.3 L795.0,528.3 L796.3,539.0 L799.0,541.7 L799.7,549.7 L805.7,550.3 L806.3,557.7 L818.3,557.7 L820.3,567.7 L821.0,577.0 L846.3,577.0 L847.0,589.0 L895.0,589.0 L896.3,598.3 L902.3,600.3 L921.7,600.3 L922.3,616.3 L975.7,616.0 L975.7,634.0 L987.5,634.0" stroke="#f00" stroke-width="2"/>
<path d="M329.7,66.3 L329.7,71.0 L334.3,73.0 L337.0,75.7 L345.7,77.0 L347.0,80.3 L347.7,92.3 L350.3,96.3 L353.7,99.0 L355.7,108.3 L359.0,112.3 L359.0,119.7 L363.7,121.7 L366.3,128.3 L370.3,131.0 L371.7,145.7 L375.0,155.0 L378.3,164.3 L386.3,167.0 L393.0,172.3 L397.0,177.0 L403.7,177.7 L410.3,185.7 L415.0,191.7 L417.7,197.7 L419.7,203.0 L425.7,210.3 L431.7,211.0 L434.3,216.3 L441.0,223.0 L442.3,229.7 L449.0,233.7 L457.0,241.0 L462.3,243.0 L466.3,249.7 L472.3,256.3 L474.3,260.3 L474.3,263.0 L494.3,279.0 L497.0,285.7 L503.0,287.7 L505.0,293.7 L510.3,301.7 L515.7,305.7 L521.0,307.0 L526.3,312.3 L530.3,315.0 L534.3,321.7 L539.7,324.3 L543.7,329.7 L549.0,331.0 L553.0,335.0 L561.0,337.0 L563.7,342.3 L570.3,343.7 L574.3,347.7 L581.0,351.0 L583.7,357.0 L590.3,357.7 L594.3,363.7 L596.3,370.3 L599.0,375.0 L604.3,376.3 L607.7,381.7 L612.3,385.7 L617.0,387.0 L621.7,387.7 L624.3,391.7 L628.3,394.3 L630.3,399.7 L637.0,401.7 L639.0,407.7 L641.0,412.3 L646.3,413.7 L649.7,417.0 L651.0,423.0 L655.0,425.0 L657.7,430.3 L662.3,434.3 L667.7,437.7 L681.0,438.3 L683.7,441.0 L692.3,441.0 L695.7,443.7 L698.3,449.0 L699.7,451.0 L703.0,454.3 L715.7,454.3 L717.7,461.0 L721.0,467.7 L723.0,472.3 L727.7,473.0 L729.7,481.0 L733.0,487.7 L734.3,498.3 L736.3,499.7 L746.3,499.7 L747.0,506.3 L747.7,509.5 L766.1,509.5 L766.3,509.7 L767.0,515.7 L779.0,516.3 L779.7,521.7 L793.0,522.3 L797.0,528.3 L798.3,539.0 L801.0,541.7 L801.7,549.7 L807.7,550.3 L808.3,557.7 L820.3,557.7 L822.3,567.7 L823.0,577.0 L848.3,577.0 L849.0,589.0 L897.0,589.0 L898.3,598.3 L904.3,600.3 L923.7,600.3 L924.3,616.3 L977.7,616.0 L977.7,634.0 L989.5,634.0" stroke="#f00" stroke-width="2"/>
<path d="M327.7,68.3 L327.7,73.0 L332.3,75.0 L335.0,77.7 L343.7,79.0 L345.0,82.3 L345.7,94.3 L348.3,98.3 L351.7,101.0 L353.7,110.3 L357.0,114.3 L357.0,121.7 L361.7,123.7 L364.3,130.3 L368.3,133.0 L369.7,147.7 L373.0,157.0 L376.3,166.3 L384.3,169.0 L391.0,174.3 L395.0,179.0 L401.7,179.7 L408.3,187.7 L413.0,193.7 L415.7,199.7 L417.7,205.0 L423.7,212.3 L429.7,213.0 L432.3,218.3 L439.0,225.0 L440.3,231.7 L447.0,235.7 L455.0,243.0 L460.3,245.0 L464.3,251.7 L470.3,258.3 L472.3,262.3 L472.3,265.0 L492.3,281.0 L495.0,287.7 L501.0,289.7 L503.0,295.7 L508.3,303.7 L513.7,307.7 L519.0,309.0 L524.3,314.3 L528.3,317.0 L532.3,323.7 L537.7,326.3 L541.7,331.7 L547.0,333.0 L551.0,337.0 L559.0,339.0 L561.7,344.3 L568.3,345.7 L572.3,349.7 L579.0,353.0 L581.7,359.0 L588.3,359.7 L592.3,365.7 L594.3,372.3 L597.0,377.0 L602.3,378.3 L605.7,383.7 L610.3,387.7 L615.0,389.0 L619.7,389.7 L622.3,393.7 L626.3,396.3 L628.3,401.7 L635.0,403.7 L637.0,409.7 L639.0,414.3 L644.3,415.7 L647.7,419.0 L649.0,425.0 L653.0,427.0 L655.7,432.3 L660.3,436.3 L665.7,439.7 L679.0,440.3 L681.7,443.0 L690.3,443.0 L693.7,445.7 L696.3,451.0 L697.7,453.0 L701.0,456.3 L713.7,456.3 L715.7,463.0 L719.0,469.7 L721.0,474.3 L725.7,475.0 L727.7,483.0 L731.0,489.7 L732.3,500.3 L734.3,501.7 L744.3,501.7 L745.0,508.3 L745.7,511.5 L764.1,511.5 L764.3,511.7 L765.0,517.7 L777.0,518.3 L777.7,523.7 L791.0,524.3 L795.0,530.3 L796.3,541.0 L799.0,543.7 L799.7,551.7 L805.7,552.3 L806.3,559.7 L818.3,559.7 L820.3,569.7 L821.0,579.0 L846.3,579.0 L847.0,591.0 L895.0,591.0 L896.3,600.3 L902.3,602.3 L921.7,602.3 L922.3,618.3 L975.7,618.0 L975.7,636.0 L987.5,636.0" stroke="#f00" stroke-width="2"/>
<path d="M329.7,68.3 L329.7,73.0 L334.3,75.0 L337.0,77.7 L345.7,79.0 L347.0,82.3 L347.7,94.3 L350.3,98.3 L353.7,101.0 L355.7,110.3 L359.0,114.3 L359.0,121.7 L363.7,123.7 L366.3,130.3 L370.3,133.0 L371.7,147.7 L375.0,157.0 L378.3,166.3 L386.3,169.0 L393.0,174.3 L397.0,179.0 L403.7,179.7 L410.3,187.7 L415.0,193.7 L417.7,199.7 L419.7,205.0 L425.7,212.3 L431.7,213.0 L434.3,218.3 L441.0,225.0 L442.3,231.7 L449.0,235.7 L457.0,243.0 L462.3,245.0 L466.3,251.7 L472.3,258.3 L474.3,262.3 L474.3,265.0 L494.3,281.0 L497.0,287.7 L503.0,289.7 L505.0,295.7 L510.3,303.7 L515.7,307.7 L521.0,309.0 L526.3,314.3 L530.3,317.0 L534.3,323.7 L539.7,326.3 L543.7,331.7 L549.0,333.0 L553.0,337.0 L561.0,339.0 L563.7,344.3 L570.3,345.7 L574.3,349.7 L581.0,353.0 L583.7,359.0 L590.3,359.7 L594.3,365.7 L596.3,372.3 L599.0,377.0 L604.3,378.3 L607.7,383.7 L612.3,387.7 L617.0,389.0 L621.7,389.7 L624.3,393.7 L628.3,396.3 L630.3,401.7 L637.0,403.7 L639.0,409.7 L641.0,414.3 L646.3,415.7 L649.7,419.0 L651.0,425.0 L655.0,427.0 L657.7,432.3 L662.3,436.3 L667.7,439.7 L681.0,440.3 L683.7,443.0 L692.3,443.0 L695.7,445.7 L698.3,451.0 L699.7,453.0 L703.0,456.3 L715.7,456.3 L717.7,463.0 L721.0,469.7 L723.0,474.3 L727.7,475.0 L729.7,483.0 L733.0,489.7 L734.3,500.3 L736.3,501.7 L746.3,501.7 L747.0,508.3 L747.7,511.5 L766.1,511.5 L766.3,511.7 L767.0,517.7 L779.0,518.3 L779.7,523.7 L793.0,524.3 L797.0,530.3 L798.3,541.0 L801.0,543.7 L801.7,551.7 L807.7,552.3 L808.3,559.7 L820.3,559.7 L822.3,569.7 L823.0,579.0 L848.3,579.0 L849.0,591.0 L897.0,591.0 L898.3,600.3 L904.3,602.3 L923.7,602.3 L924.3,618.3 L977.7,618.0 L977.7,636.0 L989.5,636.0" stroke="#f00" stroke-width="2"/>
<path d="M327.2,65.8 L327.2,70.5 L331.8,72.5 L334.5,75.2 L343.2,76.5 L344.5,79.8 L345.2,91.8 L347.8,95.8 L351.2,98.5 L353.2,107.8 L356.5,111.8 L356.5,119.2 L361.2,121.2 L363.8,127.8 L367.8,130.5 L369.2,145.2 L372.5,154.5 L375.8,163.8 L383.8,166.5 L390.5,171.8 L394.5,176.5 L401.2,177.2 L407.8,185.2 L412.5,191.2 L415.2,197.2 L417.2,202.5 L423.2,209.8 L429.2,210.5 L431.8,215.8 L438.5,222.5 L439.8,229.2 L446.5,233.2 L454.5,240.5 L459.8,242.5 L463.8,249.2 L469.8,255.8 L471.8,259.8 L471.8,262.5 L491.8,278.5 L494.5,285.2 L500.5,287.2 L502.5,293.2 L507.8,301.2 L513.2,305.2 L518.5,306.5 L523.8,311.8 L527.8,314.5 L531.8,321.2 L537.2,323.8 L541.2,329.2 L546.5,330.5 L550.5,334.5 L558.5,336.5 L561.2,341.8 L567.8,343.2 L571.8,347.2 L578.5,350.5 L581.2,356.5 L587.8,357.2 L591.8,363.2 L593.8,369.8 L596.5,374.5 L601.8,375.8 L605.2,381.2 L609.8,385.2 L614.5,386.5 L619.2,387.2 L621.8,391.2 L625.8,393.8 L627.8,399.2 L634.5,401.2 L636.5,407.2 L638.5,411.8 L643.8,413.2 L647.2,416.5 L648.5,422.5 L652.5,424.5 L655.2,429.8 L659.8,433.8 L665.2,437.2 L678.5,437.8 L681.2,440.5 L689.8,440.5 L693.2,443.2 L695.8,448.5 L697.2,450.5 L700.5,453.8 L713.2,453.8 L715.2,460.5 L718.5,467.2 L720.5,471.8 L725.2,472.5 L727.2,480.5 L730.5,487.2 L731.8,497.8 L733.8,499.2 L743.8,499.2 L744.5,505.8 L745.2,509.0 L763.6,509.0 L763.8,509.2 L764.5,515.2 L776.5,515.8 L777.2,521.2 L790.5,521.8 L794.5,527.8 L795.8,538.5 L798.5,541.2 L799.2,549.2 L805.2,549.8 L805.8,557.2 L817.8,557.2 L819.8,567.2 L820.5,576.5 L845.8,576.5 L846.5,588.5 L894.5,588.5 L895.8,597.8 L901.8,599.8 L921.2,599.8 L921.8,615.8 L975.2,615.5 L975.2,633.5 L987.0,633.5" stroke="#f00" stroke-width="1"/>
<path d="M330.2,65.8 L330.2,70.5 L334.8,72.5 L337.5,75.2 L346.2,76.5 L347.5,79.8 L348.2,91.8 L350.8,95.8 L354.2,98.5 L356.2,107.8 L359.5,111.8 L359.5,119.2 L364.2,121.2 L366.8,127.8 L370.8,130.5 L372.2,145.2 L375.5,154.5 L378.8,163.8 L386.8,166.5 L393.5,171.8 L397.5,176.5 L404.2,177.2 L410.8,185.2 L415.5,191.2 L418.2,197.2 L420.2,202.5 L426.2,209.8 L432.2,210.5 L434.8,215.8 L441.5,222.5 L442.8,229.2 L449.5,233.2 L457.5,240.5 L462.8,242.5 L466.8,249.2 L472.8,255.8 L474.8,259.8 L474.8,262.5 L494.8,278.5 L497.5,285.2 L503.5,287.2 L505.5,293.2 L510.8,301.2 L516.2,305.2 L521.5,306.5 L526.8,311.8 L530.8,314.5 L534.8,321.2 L540.2,323.8 L544.2,329.2 L549.5,330.5 L553.5,334.5 L561.5,336.5 L564.2,341.8 L570.8,343.2 L574.8,347.2 L581.5,350.5 L584.2,356.5 L590.8,357.2 L594.8,363.2 L596.8,369.8 L599.5,374.5 L604.8,375.8 L608.2,381.2 L612.8,385.2 L617.5,386.5 L622.2,387.2 L624.8,391.2 L628.8,393.8 L630.8,399.2 L637.5,401.2 L639.5,407.2 L641.5,411.8 L646.8,413.2 L650.2,416.5 L651.5,422.5 L655.5,424.5 L658.2,429.8 L662.8,433.8 L668.2,437.2 L681.5,437.8 L684.2,440.5 L692.8,440.5 L696.2,443.2 L698.8,448.5 L700.2,450.5 L703.5,453.8 L716.2,453.8 L718.2,460.5 L721.5,467.2 L723.5,471.8 L728.2,472.5 L730.2,480.5 L733.5,487.2 L734.8,497.8 L736.8,499.2 L746.8,499.2 L747.5,505.8 L748.2,509.0 L766.6,509.0 L766.8,509.2 L767.5,515.2 L779.5,515.8 L780.2,521.2 L793.5,521.8 L797.5,527.8 L798.8,538.5 L801.5,541.2 L802.2,549.2 L808.2,549.8 L808.8,557.2 L820.8,557.2 L822.8,567.2 L823.5,576.5 L848.8,576.5 L849.5,588.5 L897.5,588.5 L898.8,597.8 L904.8,599.8 L924.2,599.8 L924.8,615.8 L978.2,615.5 L978.2,633.5 L990.0,633.5" stroke="#f00" stroke-width="1"/>
<path d="M327.2,68.8 L327.2,73.5 L331.8,75.5 L334.5,78.2 L343.2,79.5 L344.5,82.8 L345.2,94.8 L347.8,98.8 L351.2,101.5 L353.2,110.8 L356.5,114.8 L356.5,122.2 L361.2,124.2 L363.8,130.8 L367.8,133.5 L369.2,148.2 L372.5,157.5 L375.8,166.8 L383.8,169.5 L390.5,174.8 L394.5,179.5 L401.2,180.2 L407.8,188.2 L412.5,194.2 L415.2,200.2 L417.2,205.5 L423.2,212.8 L429.2,213.5 L431.8,218.8 L438.5,225.5 L439.8,232.2 L446.5,236.2 L454.5,243.5 L459.8,245.5 L463.8,252.2 L469.8,258.8 L471.8,262.8 L471.8,265.5 L491.8,281.5 L494.5,288.2 L500.5,290.2 L502.5,296.2 L507.8,304.2 L513.2,308.2 L518.5,309.5 L523.8,314.8 L527.8,317.5 L531.8,324.2 L537.2,326.8 L541.2,332.2 L546.5,333.5 L550.5,337.5 L558.5,339.5 L561.2,344.8 L567.8,346.2 L571.8,350.2 L578.5,353.5 L581.2,359.5 L587.8,360.2 L591.8,366.2 L593.8,372.8 L596.5,377.5 L601.8,378.8 L605.2,384.2 L609.8,388.2 L614.5,389.5 L619.2,390.2 L621.8,394.2 L625.8,396.8 L627.8,402.2 L634.5,404.2 L636.5,410.2 L638.5,414.8 L643.8,416.2 L647.2,419.5 L648.5,425.5 L652.5,427.5 L655.2,432.8 L659.8,436.8 L665.2,440.2 L678.5,440.8 L681.2,443.5 L689.8,443.5 L693.2,446.2 L695.8,451.5 L697.2,453.5 L700.5,456.8 L713.2,456.8 L715.2,463.5 L718.5,470.2 L720.5,474.8 L725.2,475.5 L727.2,483.5 L730.5,490.2 L731.8,500.8 L733.8,502.2 L743.8,502.2 L744.5,508.8 L745.2,512.0 L763.6,512.0 L763.8,512.2 L764.5,518.2 L776.5,518.8 L777.2,524.2 L790.5,524.8 L794.5,530.8 L795.8,541.5 L798.5,544.2 L799.2,552.2 L805.2,552.8 L805.8,560.2 L817.8,560.2 L819.8,570.2 L820.5,579.5 L845.8,579.5 L846.5,591.5 L894.5,591.5 L895.8,600.8 L901.8,602.8 L921.2,602.8 L921.8,618.8 L975.2,618.5 L975.2,636.5 L987.0,636.5" stroke="#f00" stroke-width="1"/>
<path d="M330.2,68.8 L330.2,73.5 L334.8,75.5 L337.5,78.2 L346.2,79.5 L347.5,82.8 L348.2,94.8 L350.8,98.8 L354.2,101.5 L356.2,110.8 L359.5,114.8 L359.5,122.2 L364.2,124.2 L366.8,130.8 L370.8,133.5 L372.2,148.2 L375.5,157.5 L378.8,166.8 L386.8,169.5 L393.5,174.8 L397.5,179.5 L404.2,180.2 L410.8,188.2 L415.5,194.2 L418.2,200.2 L420.2,205.5 L426.2,212.8 L432.2,213.5 L434.8,218.8 L441.5,225.5 L442.8,232.2 L449.5,236.2 L457.5,243.5 L462.8,245.5 L466.8,252.2 L472.8,258.8 L474.8,262.8 L474.8,265.5 L494.8,281.5 L497.5,288.2 L503.5,290.2 L505.5,296.2 L510.8,304.2 L516.2,308.2 L521.5,309.5 L526.8,314.8 L530.8,317.5 L534.8,324.2 L540.2,326.8 L544.2,332.2 L549.5,333.5 L553.5,337.5 L561.5,339.5 L564.2,344.8 L570.8,346.2 L574.8,350.2 L581.5,353.5 L584.2,359.5 L590.8,360.2 L594.8,366.2 L596.8,372.8 L599.5,377.5 L604.8,378.8 L608.2,384.2 L612.8,388.2 L617.5,389.5 L622.2,390.2 L624.8,394.2 L628.8,396.8 L630.8,402.2 L637.5,404.2 L639.5,410.2 L641.5,414.8 L646.8,416.2 L650.2,419.5 L651.5,425.5 L655.5,427.5 L658.2,432.8 L662.8,436.8 L668.2,440.2 L681.5,440.8 L684.2,443.5 L692.8,443.5 L696.2,446.2 L698.8,451.5 L700.2,453.5 L703.5,456.8 L716.2,456.8 L718.2,463.5 L721.5,470.2 L723.5,474.8 L728.2,475.5 L730.2,483.5 L733.5,490.2 L734.8,500.8 L736.8,502.2 L746.8,502.2 L747.5,508.8 L748.2,512.0 L766.6,512.0 L766.8,512.2 L767.5,518.2 L779.5,518.8 L780.2,524.2 L793.5,524.8 L797.5,530.8 L798.8,541.5 L801.5,544.2 L802.2,552.2 L808.2,552.8 L808.8,560.2 L820.8,560.2 L822.8,570.2 L823.5,579.5 L848.8,579.5 L849.5,591.5 L897.5,591.5 L898.8,600.8 L904.8,602.8 L924.2,602.8 L924.8,618.8 L978.2,618.5 L978.2,636.5 L990.0,636.5" stroke="#f00" stroke-width="1"/>
<path d="M474,300.7 H497.7 V252 H474 Z" stroke="#f00"/>
<polygon points="479.0,268.0 493.6,268.0 495.1,272.3 488.3,284.6 484.3,284.6 477.5,272.3" fill="#f00" stroke="none"/>
<circle cx="475" cy="270.3" r="5.1" stroke="#f00" stroke-width="5.8" shape-rendering="geometricPrecision"/>
<path d="M346.7,67.3 L349.3,71.3 L349.3,78.7 L353.3,80.0 L353.3,87.3 L355.3,92.0 L357.3,98.7 L361.3,101.3 L362.7,106.7 L370.7,106.7 L370.0,113.3 L370.0,121.3 L376.0,122.0 L376.7,125.3 L400.0,125.3 L400.7,129.3 L405.3,134.0 L412.0,136.0 L416.0,140.0 L417.3,144.7 L441.0,145.0 L441.0,155.0 L449.5,155.0 L451.0,159.0 L451.7,165.5 L454.5,167.8 L455.0,170.0 L462.8,170.0 L463.9,181.0 L466.7,184.0 L472.2,185.3 L480.0,184.7 L482.7,192.0 L486.7,202.0 L493.3,212.7 L504.0,212.7 L504.4,224.9 L509.3,228.7 L513.3,231.3 L514.0,236.0 L521.3,236.7 L522.7,241.3 L528.0,244.0 L528.7,248.0 L536.7,250.0 L546.7,250.0 L547.3,253.3 L550.7,254.7 L552.0,262.7 L554.0,266.7 L556.0,270.0 L562.0,271.3 L564.0,276.7 L565.3,283.3 L580.0,284.7 L580.7,289.3 L584.7,291.3 L586.0,299.3 L587.3,306.0 L590.7,310.0 L592.7,315.3 L593.3,323.3 L594.7,332.7 L596.7,335.3 L596.7,354.0 L658.0,354.0 L660.0,356.7 L660.7,363.5 L668.0,364.0 L668.0,376.7 L674.0,377.3 L674.0,388.7 L685.3,388.7 L685.3,402.7 L692.0,402.7 L692.5,417.7 L727.3,418.0 L728.0,434.0 L734.7,435.3 L734.7,454.0 L767.3,454.0 L768.7,466.0 L768.7,477.0 L772.0,478.5 L772.7,504.0 L785.3,504.7 L787.3,508.0 L787.3,542.0 L882.0,542.0 L882.7,601.3 L913.0,601.3 L913.0,801.0" stroke="#f00" stroke-dasharray="10 4" stroke-dashoffset="10"/>
<path d="M345.7,66.3 L348.3,70.3 L348.3,77.7 L352.3,79.0 L352.3,86.3 L354.3,91.0 L356.3,97.7 L360.3,100.3 L361.7,105.7 L369.7,105.7 L369.0,112.3 L369.0,120.3 L375.0,121.0 L375.7,124.3 L399.0,124.3 L399.7,128.3 L404.3,133.0 L411.0,135.0 L415.0,139.0 L416.3,143.7 L440.0,144.0 L440.0,154.0 L448.5,154.0 L450.0,158.0 L450.7,164.5 L453.5,166.8 L454.0,169.0 L461.8,169.0 L462.9,180.0 L465.7,183.0 L471.2,184.3 L479.0,183.7 L481.7,191.0 L485.7,201.0 L492.3,211.7 L503.0,211.7 L503.4,223.9 L508.3,227.7 L512.3,230.3 L513.0,235.0 L520.3,235.7 L521.7,240.3 L527.0,243.0 L527.7,247.0 L535.7,249.0 L545.7,249.0 L546.3,252.3 L549.7,253.7 L551.0,261.7 L553.0,265.7 L555.0,269.0 L561.0,270.3 L563.0,275.7 L564.3,282.3 L579.0,283.7 L579.7,288.3 L583.7,290.3 L585.0,298.3 L586.3,305.0 L589.7,309.0 L591.7,314.3 L592.3,322.3 L593.7,331.7 L595.7,334.3 L595.7,353.0 L657.0,353.0 L659.0,355.7 L659.7,362.5 L667.0,363.0 L667.0,375.7 L673.0,376.3 L673.0,387.7 L684.3,387.7 L684.3,401.7 L691.0,401.7 L691.5,416.7 L726.3,417.0 L727.0,433.0 L733.7,434.3 L733.7,453.0 L766.3,453.0 L767.7,465.0 L767.7,476.0 L771.0,477.5 L771.7,503.0 L784.3,503.7 L786.3,507.0 L786.3,541.0 L881.0,541.0 L881.7,600.3 L912.0,600.3 L912.0,800.0" stroke="#f00" stroke-width="2" stroke-dasharray="8 6" stroke-dashoffset="9"/>
<path d="M347.7,66.3 L350.3,70.3 L350.3,77.7 L354.3,79.0 L354.3,86.3 L356.3,91.0 L358.3,97.7 L362.3,100.3 L363.7,105.7 L371.7,105.7 L371.0,112.3 L371.0,120.3 L377.0,121.0 L377.7,124.3 L401.0,124.3 L401.7,128.3 L406.3,133.0 L413.0,135.0 L417.0,139.0 L418.3,143.7 L442.0,144.0 L442.0,154.0 L450.5,154.0 L452.0,158.0 L452.7,164.5 L455.5,166.8 L456.0,169.0 L463.8,169.0 L464.9,180.0 L467.7,183.0 L473.2,184.3 L481.0,183.7 L483.7,191.0 L487.7,201.0 L494.3,211.7 L505.0,211.7 L505.4,223.9 L510.3,227.7 L514.3,230.3 L515.0,235.0 L522.3,235.7 L523.7,240.3 L529.0,243.0 L529.7,247.0 L537.7,249.0 L547.7,249.0 L548.3,252.3 L551.7,253.7 L553.0,261.7 L555.0,265.7 L557.0,269.0 L563.0,270.3 L565.0,275.7 L566.3,282.3 L581.0,283.7 L581.7,288.3 L585.7,290.3 L587.0,298.3 L588.3,305.0 L591.7,309.0 L593.7,314.3 L594.3,322.3 L595.7,331.7 L597.7,334.3 L597.7,353.0 L659.0,353.0 L661.0,355.7 L661.7,362.5 L669.0,363.0 L669.0,375.7 L675.0,376.3 L675.0,387.7 L686.3,387.7 L686.3,401.7 L693.0,401.7 L693.5,416.7 L728.3,417.0 L729.0,433.0 L735.7,434.3 L735.7,453.0 L768.3,453.0 L769.7,465.0 L769.7,476.0 L773.0,477.5 L773.7,503.0 L786.3,503.7 L788.3,507.0 L788.3,541.0 L883.0,541.0 L883.7,600.3 L914.0,600.3 L914.0,800.0" stroke="#f00" stroke-width="2" stroke-dasharray="8 6" stroke-dashoffset="9"/>
<path d="M345.7,68.3 L348.3,72.3 L348.3,79.7 L352.3,81.0 L352.3,88.3 L354.3,93.0 L356.3,99.7 L360.3,102.3 L361.7,107.7 L369.7,107.7 L369.0,114.3 L369.0,122.3 L375.0,123.0 L375.7,126.3 L399.0,126.3 L399.7,130.3 L404.3,135.0 L411.0,137.0 L415.0,141.0 L416.3,145.7 L440.0,146.0 L440.0,156.0 L448.5,156.0 L450.0,160.0 L450.7,166.5 L453.5,168.8 L454.0,171.0 L461.8,171.0 L462.9,182.0 L465.7,185.0 L471.2,186.3 L479.0,185.7 L481.7,193.0 L485.7,203.0 L492.3,213.7 L503.0,213.7 L503.4,225.9 L508.3,229.7 L512.3,232.3 L513.0,237.0 L520.3,237.7 L521.7,242.3 L527.0,245.0 L527.7,249.0 L535.7,251.0 L545.7,251.0 L546.3,254.3 L549.7,255.7 L551.0,263.7 L553.0,267.7 L555.0,271.0 L561.0,272.3 L563.0,277.7 L564.3,284.3 L579.0,285.7 L579.7,290.3 L583.7,292.3 L585.0,300.3 L586.3,307.0 L589.7,311.0 L591.7,316.3 L592.3,324.3 L593.7,333.7 L595.7,336.3 L595.7,355.0 L657.0,355.0 L659.0,357.7 L659.7,364.5 L667.0,365.0 L667.0,377.7 L673.0,378.3 L673.0,389.7 L684.3,389.7 L684.3,403.7 L691.0,403.7 L691.5,418.7 L726.3,419.0 L727.0,435.0 L733.7,436.3 L733.7,455.0 L766.3,455.0 L767.7,467.0 L767.7,478.0 L771.0,479.5 L771.7,505.0 L784.3,505.7 L786.3,509.0 L786.3,543.0 L881.0,543.0 L881.7,602.3 L912.0,602.3 L912.0,802.0" stroke="#f00" stroke-width="2" stroke-dasharray="8 6" stroke-dashoffset="9"/>
<path d="M347.7,68.3 L350.3,72.3 L350.3,79.7 L354.3,81.0 L354.3,88.3 L356.3,93.0 L358.3,99.7 L362.3,102.3 L363.7,107.7 L371.7,107.7 L371.0,114.3 L371.0,122.3 L377.0,123.0 L377.7,126.3 L401.0,126.3 L401.7,130.3 L406.3,135.0 L413.0,137.0 L417.0,141.0 L418.3,145.7 L442.0,146.0 L442.0,156.0 L450.5,156.0 L452.0,160.0 L452.7,166.5 L455.5,168.8 L456.0,171.0 L463.8,171.0 L464.9,182.0 L467.7,185.0 L473.2,186.3 L481.0,185.7 L483.7,193.0 L487.7,203.0 L494.3,213.7 L505.0,213.7 L505.4,225.9 L510.3,229.7 L514.3,232.3 L515.0,237.0 L522.3,237.7 L523.7,242.3 L529.0,245.0 L529.7,249.0 L537.7,251.0 L547.7,251.0 L548.3,254.3 L551.7,255.7 L553.0,263.7 L555.0,267.7 L557.0,271.0 L563.0,272.3 L565.0,277.7 L566.3,284.3 L581.0,285.7 L581.7,290.3 L585.7,292.3 L587.0,300.3 L588.3,307.0 L591.7,311.0 L593.7,316.3 L594.3,324.3 L595.7,333.7 L597.7,336.3 L597.7,355.0 L659.0,355.0 L661.0,357.7 L661.7,364.5 L669.0,365.0 L669.0,377.7 L675.0,378.3 L675.0,389.7 L686.3,389.7 L686.3,403.7 L693.0,403.7 L693.5,418.7 L728.3,419.0 L729.0,435.0 L735.7,436.3 L735.7,455.0 L768.3,455.0 L769.7,467.0 L769.7,478.0 L773.0,479.5 L773.7,505.0 L786.3,505.7 L788.3,509.0 L788.3,543.0 L883.0,543.0 L883.7,602.3 L914.0,602.3 L914.0,802.0" stroke="#f00" stroke-width="2" stroke-dasharray="8 6" stroke-dashoffset="9"/>
<path d="M345.2,65.8 L347.8,69.8 L347.8,77.2 L351.8,78.5 L351.8,85.8 L353.8,90.5 L355.8,97.2 L359.8,99.8 L361.2,105.2 L369.2,105.2 L368.5,111.8 L368.5,119.8 L374.5,120.5 L375.2,123.8 L398.5,123.8 L399.2,127.8 L403.8,132.5 L410.5,134.5 L414.5,138.5 L415.8,143.2 L439.5,143.5 L439.5,153.5 L448.0,153.5 L449.5,157.5 L450.2,164.0 L453.0,166.3 L453.5,168.5 L461.3,168.5 L462.4,179.5 L465.2,182.5 L470.7,183.8 L478.5,183.2 L481.2,190.5 L485.2,200.5 L491.8,211.2 L502.5,211.2 L502.9,223.4 L507.8,227.2 L511.8,229.8 L512.5,234.5 L519.8,235.2 L521.2,239.8 L526.5,242.5 L527.2,246.5 L535.2,248.5 L545.2,248.5 L545.8,251.8 L549.2,253.2 L550.5,261.2 L552.5,265.2 L554.5,268.5 L560.5,269.8 L562.5,275.2 L563.8,281.8 L578.5,283.2 L579.2,287.8 L583.2,289.8 L584.5,297.8 L585.8,304.5 L589.2,308.5 L591.2,313.8 L591.8,321.8 L593.2,331.2 L595.2,333.8 L595.2,352.5 L656.5,352.5 L658.5,355.2 L659.2,362.0 L666.5,362.5 L666.5,375.2 L672.5,375.8 L672.5,387.2 L683.8,387.2 L683.8,401.2 L690.5,401.2 L691.0,416.2 L725.8,416.5 L726.5,432.5 L733.2,433.8 L733.2,452.5 L765.8,452.5 L767.2,464.5 L767.2,475.5 L770.5,477.0 L771.2,502.5 L783.8,503.2 L785.8,506.5 L785.8,540.5 L880.5,540.5 L881.2,599.8 L911.5,599.8 L911.5,799.5" stroke="#f00" stroke-width="1" stroke-dasharray="7 7" stroke-dashoffset="8.5"/>
<path d="M348.2,65.8 L350.8,69.8 L350.8,77.2 L354.8,78.5 L354.8,85.8 L356.8,90.5 L358.8,97.2 L362.8,99.8 L364.2,105.2 L372.2,105.2 L371.5,111.8 L371.5,119.8 L377.5,120.5 L378.2,123.8 L401.5,123.8 L402.2,127.8 L406.8,132.5 L413.5,134.5 L417.5,138.5 L418.8,143.2 L442.5,143.5 L442.5,153.5 L451.0,153.5 L452.5,157.5 L453.2,164.0 L456.0,166.3 L456.5,168.5 L464.3,168.5 L465.4,179.5 L468.2,182.5 L473.7,183.8 L481.5,183.2 L484.2,190.5 L488.2,200.5 L494.8,211.2 L505.5,211.2 L505.9,223.4 L510.8,227.2 L514.8,229.8 L515.5,234.5 L522.8,235.2 L524.2,239.8 L529.5,242.5 L530.2,246.5 L538.2,248.5 L548.2,248.5 L548.8,251.8 L552.2,253.2 L553.5,261.2 L555.5,265.2 L557.5,268.5 L563.5,269.8 L565.5,275.2 L566.8,281.8 L581.5,283.2 L582.2,287.8 L586.2,289.8 L587.5,297.8 L588.8,304.5 L592.2,308.5 L594.2,313.8 L594.8,321.8 L596.2,331.2 L598.2,333.8 L598.2,352.5 L659.5,352.5 L661.5,355.2 L662.2,362.0 L669.5,362.5 L669.5,375.2 L675.5,375.8 L675.5,387.2 L686.8,387.2 L686.8,401.2 L693.5,401.2 L694.0,416.2 L728.8,416.5 L729.5,432.5 L736.2,433.8 L736.2,452.5 L768.8,452.5 L770.2,464.5 L770.2,475.5 L773.5,477.0 L774.2,502.5 L786.8,503.2 L788.8,506.5 L788.8,540.5 L883.5,540.5 L884.2,599.8 L914.5,599.8 L914.5,799.5" stroke="#f00" stroke-width="1" stroke-dasharray="7 7" stroke-dashoffset="8.5"/>
<path d="M345.2,68.8 L347.8,72.8 L347.8,80.2 L351.8,81.5 L351.8,88.8 L353.8,93.5 L355.8,100.2 L359.8,102.8 L361.2,108.2 L369.2,108.2 L368.5,114.8 L368.5,122.8 L374.5,123.5 L375.2,126.8 L398.5,126.8 L399.2,130.8 L403.8,135.5 L410.5,137.5 L414.5,141.5 L415.8,146.2 L439.5,146.5 L439.5,156.5 L448.0,156.5 L449.5,160.5 L450.2,167.0 L453.0,169.3 L453.5,171.5 L461.3,171.5 L462.4,182.5 L465.2,185.5 L470.7,186.8 L478.5,186.2 L481.2,193.5 L485.2,203.5 L491.8,214.2 L502.5,214.2 L502.9,226.4 L507.8,230.2 L511.8,232.8 L512.5,237.5 L519.8,238.2 L521.2,242.8 L526.5,245.5 L527.2,249.5 L535.2,251.5 L545.2,251.5 L545.8,254.8 L549.2,256.2 L550.5,264.2 L552.5,268.2 L554.5,271.5 L560.5,272.8 L562.5,278.2 L563.8,284.8 L578.5,286.2 L579.2,290.8 L583.2,292.8 L584.5,300.8 L585.8,307.5 L589.2,311.5 L591.2,316.8 L591.8,324.8 L593.2,334.2 L595.2,336.8 L595.2,355.5 L656.5,355.5 L658.5,358.2 L659.2,365.0 L666.5,365.5 L666.5,378.2 L672.5,378.8 L672.5,390.2 L683.8,390.2 L683.8,404.2 L690.5,404.2 L691.0,419.2 L725.8,419.5 L726.5,435.5 L733.2,436.8 L733.2,455.5 L765.8,455.5 L767.2,467.5 L767.2,478.5 L770.5,480.0 L771.2,505.5 L783.8,506.2 L785.8,509.5 L785.8,543.5 L880.5,543.5 L881.2,602.8 L911.5,602.8 L911.5,802.5" stroke="#f00" stroke-width="1" stroke-dasharray="7 7" stroke-dashoffset="8.5"/>
<path d="M348.2,68.8 L350.8,72.8 L350.8,80.2 L354.8,81.5 L354.8,88.8 L356.8,93.5 L358.8,100.2 L362.8,102.8 L364.2,108.2 L372.2,108.2 L371.5,114.8 L371.5,122.8 L377.5,123.5 L378.2,126.8 L401.5,126.8 L402.2,130.8 L406.8,135.5 L413.5,137.5 L417.5,141.5 L418.8,146.2 L442.5,146.5 L442.5,156.5 L451.0,156.5 L452.5,160.5 L453.2,167.0 L456.0,169.3 L456.5,171.5 L464.3,171.5 L465.4,182.5 L468.2,185.5 L473.7,186.8 L481.5,186.2 L484.2,193.5 L488.2,203.5 L494.8,214.2 L505.5,214.2 L505.9,226.4 L510.8,230.2 L514.8,232.8 L515.5,237.5 L522.8,238.2 L524.2,242.8 L529.5,245.5 L530.2,249.5 L538.2,251.5 L548.2,251.5 L548.8,254.8 L552.2,256.2 L553.5,264.2 L555.5,268.2 L557.5,271.5 L563.5,272.8 L565.5,278.2 L566.8,284.8 L581.5,286.2 L582.2,290.8 L586.2,292.8 L587.5,300.8 L588.8,307.5 L592.2,311.5 L594.2,316.8 L594.8,324.8 L596.2,334.2 L598.2,336.8 L598.2,355.5 L659.5,355.5 L661.5,358.2 L662.2,365.0 L669.5,365.5 L669.5,378.2 L675.5,378.8 L675.5,390.2 L686.8,390.2 L686.8,404.2 L693.5,404.2 L694.0,419.2 L728.8,419.5 L729.5,435.5 L736.2,436.8 L736.2,455.5 L768.8,455.5 L770.2,467.5 L770.2,478.5 L773.5,480.0 L774.2,505.5 L786.8,506.2 L788.8,509.5 L788.8,543.5 L883.5,543.5 L884.2,602.8 L914.5,602.8 L914.5,802.5" stroke="#f00" stroke-width="1" stroke-dasharray="7 7" stroke-dashoffset="8.5"/>
<path d="M474,258 H497.7 V147 H474 Z" stroke="#f00" stroke-dasharray="10 4" stroke-dashoffset="10"/>
<polygon points="479.0,195.0 493.6,195.0 495.1,199.3 488.3,211.6 484.3,211.6 477.5,199.3" fill="#f00" stroke="none"/>
<circle cx="504.6" cy="225.3" r="5.1" stroke="#f00" stroke-width="5.8" shape-rendering="geometricPrecision"/>
</g>
<rect x="858.5" y="77.5" width="120" height="116" fill="#fff" stroke="#000" stroke-width="1"/>
<path d="M869,94 H930" stroke="#000" stroke-width="4" fill="none"/>
<path d="M869,121 H930" stroke="#000" stroke-width="4" fill="none" stroke-dasharray="10 4" stroke-dashoffset="10"/>
<path d="M869,148 H930" stroke="#f00" stroke-width="4" fill="none"/>
<path d="M869,175 H930" stroke="#f00" stroke-width="4" fill="none" stroke-dasharray="10 4" stroke-dashoffset="10"/>
</svg>
<div id="txt" style="position:absolute;left:0;top:0;width:1201px;height:900px;will-change:transform">
<div class="t" style="left:20.4px;width:1200px;text-align:center;top:33.8px;">USTC: (USTC2, 1conv4w-1conv4w.n) DET 13a Performance by Transmission Type (English) SRE06</div>
<div class="t" style="left:18.5px;width:1200px;text-align:center;top:837.8px;">False Alarm probability (in %)</div>
<div class="t" style="left:-301.2px;width:1200px;text-align:center;top:807.8px;">0.1</div>
<div class="t" style="left:-57.4px;width:300px;text-align:right;top:745.8px;">0.1</div>
<div class="t" style="left:-254.0px;width:1200px;text-align:center;top:807.8px;">0.2</div>
<div class="t" style="left:-57.4px;width:300px;text-align:right;top:698.8px;">0.2</div>
<div class="t" style="left:-186.6px;width:1200px;text-align:center;top:807.8px;">0.5</div>
<div class="t" style="left:-57.4px;width:300px;text-align:right;top:631.8px;">0.5</div>
<div class="t" style="left:-131.0px;width:1200px;text-align:center;top:807.8px;">1</div>
<div class="t" style="left:-57.4px;width:300px;text-align:right;top:575.8px;">1</div>
<div class="t" style="left:-70.3px;width:1200px;text-align:center;top:807.8px;">2</div>
<div class="t" style="left:-57.4px;width:300px;text-align:right;top:514.8px;">2</div>
<div class="t" style="left:20.8px;width:1200px;text-align:center;top:807.8px;">5</div>
<div class="t" style="left:-57.4px;width:300px;text-align:right;top:423.8px;">5</div>
<div class="t" style="left:101.7px;width:1200px;text-align:center;top:807.8px;">10</div>
<div class="t" style="left:-57.4px;width:300px;text-align:right;top:342.8px;">10</div>
<div class="t" style="left:199.7px;width:1200px;text-align:center;top:807.8px;">20</div>
<div class="t" style="left:-57.4px;width:300px;text-align:right;top:244.8px;">20</div>
<div class="t" style="left:330.8px;width:1200px;text-align:center;top:807.8px;">40</div>
<div class="t" style="left:-57.4px;width:300px;text-align:right;top:113.8px;">40</div>
<div class="t" style="left:935.5px;top:83.8px;">clcl</div>
<div class="t" style="left:935.5px;top:111.8px;">clln</div>
<div class="t" style="left:935.5px;top:138.8px;">lnln</div>
<div class="t" style="left:935.5px;top:166.8px;">lncl</div>
<div style="position:absolute;left:206px;top:434.7px;width:0;height:0;"><div style="position:absolute;white-space:nowrap;transform:translate(-50%,-17.2px) rotate(-90deg) scaleY(1.03);transform-origin:50% 17.2px;line-height:20px">Miss probability (in %)</div></div>
</div></body></html>
